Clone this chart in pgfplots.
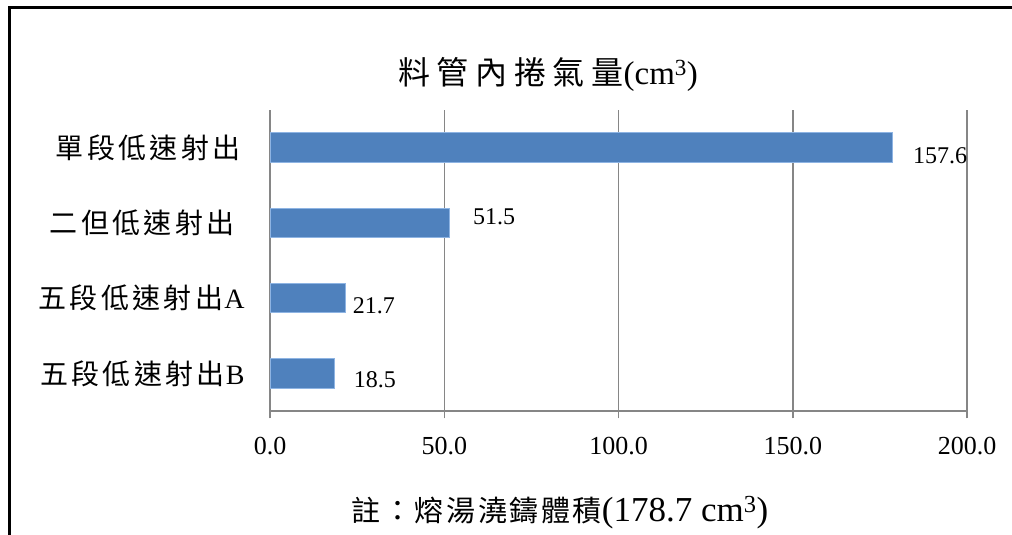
\documentclass[border=0pt]{standalone}
\usepackage{pgfplots}
\pgfplotsset{compat=1.18}
\usepackage{fontspec}
\setmainfont{Liberation Serif}
\newfontfamily\cjk{Noto Sans CJK TC}
\newfontfamily\cjkt[LetterSpace=21]{Noto Sans CJK TC}
\newfontfamily\cjkl[LetterSpace=12]{Noto Sans CJK TC}
\newfontfamily\cjkf[LetterSpace=9]{Noto Sans CJK TC}
\definecolor{barblue}{HTML}{4F81BD}
\definecolor{baredge}{HTML}{8EB4E3}
\definecolor{gridgray}{HTML}{868686}
\begin{document}
\begin{tikzpicture}
\useasboundingbox (0,0) rectangle (1012bp,535bp);
\fill[white] (0,0) rectangle (1012bp,535bp);
% outer frame (cropped)
\draw[black, line width=2.5bp] (9.5bp,0) -- (9.5bp,527.5bp) -- (1012bp,527.5bp);
\begin{axis}[
  at={(270bp,123.7bp)}, anchor=south west,
  scale only axis, width=697.2bp, height=301.6bp,
  xmin=0, xmax=200, ymin=-0.5, ymax=3.5,
  axis lines*=left,
  axis line style={-, draw=gridgray, line width=2bp},
  xtick={0,50,100,150,200},
  xticklabel style={/pgf/number format/.cd, fixed, fixed zerofill, precision=1, /tikz/.cd, font=\fontsize{26bp}{30bp}\selectfont, yshift=-15bp},
  /pgf/number format/assume math mode=true,
  xmajorgrids,
  major grid style={draw=gridgray, line width=1.6bp},
  x tick style={draw=gridgray, line width=1.6bp},
  tick align=outside, major tick length=7bp,
  ytick={0,1,2,3},
  yticklabels={{{\cjkl 五段低速射出}\kern1bp B},{{\cjkl 五段低速射出}\kern1bp A},{{\cjkl 二但低速射出}\kern10bp},{{\cjkl 單段低速射出}\kern4bp}},
  y tick style={draw=none},
  yticklabel style={font=\fontsize{28bp}{32bp}\selectfont, xshift=-15bp},
  clip=false,
]
\addplot[xbar, bar width=29.5bp, fill=barblue, draw=baredge, line width=1bp] coordinates {
  (18.5,0) (21.7,1) (51.5,2) (178.7,3)
};
\addplot[only marks, mark=*, mark size=0pt, mark options={draw=none, fill=none},
  nodes near coords, point meta=explicit symbolic, nodes near coords align=center,
  every node near coord/.append style={font=\fontsize{24bp}{28bp}\selectfont, text=black, inner sep=0pt}]
  coordinates {
  (192.2,2.887) [157.6]
  (64.3,2.085) [51.5]
  (29.8,0.898) [21.7]
  (30.1,-0.084) [18.5]
};
\end{axis}
\node[font=\fontsize{33bp}{36bp}\selectfont] at (548bp,461bp) {{\fontsize{32bp}{36bp}\selectfont\cjkt 料管內捲氣量}(cm\textsuperscript{3})};
\node[font=\fontsize{35bp}{38bp}\selectfont] at (560bp,22.5bp) {{\fontsize{29bp}{36bp}\selectfont\cjkf 註：熔湯澆鑄體積}(178.7 cm\textsuperscript{3})};
\end{tikzpicture}
\end{document}
